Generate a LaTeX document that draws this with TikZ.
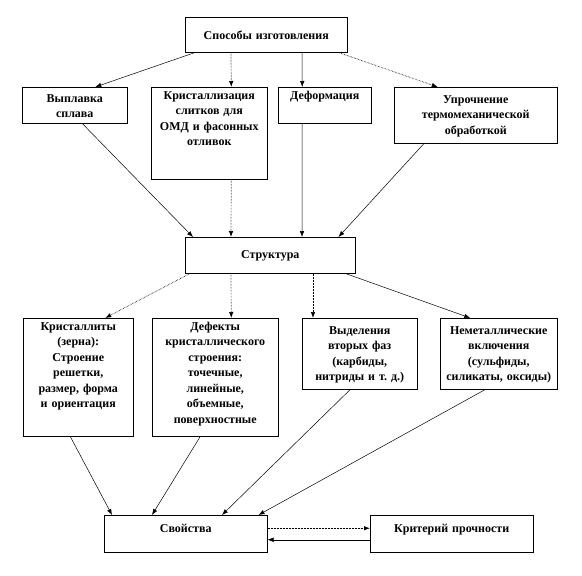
\documentclass[tikz,border=0pt]{standalone}
\usepackage{fontspec}
\setmainfont{Liberation Serif}
\frenchspacing
\usetikzlibrary{arrows.meta}

\begin{document}
\begin{tikzpicture}[
    x=1pt, y=-1pt,
    box/.style={draw, line width=0.5pt, inner sep=2pt, align=center, anchor=north west,
                text height=10pt, font=\bfseries\fontsize{12}{15.5}\selectfont},
    arrow/.style={-{Latex[length=6pt,width=4.5pt]}, line width=0.5pt},
    dotarrow/.style={arrow, densely dotted, line width=0.7pt}
  ]
  \useasboundingbox (0,0) rectangle (582,576);
  % Способы изготовления
  \node[box, text width=158pt, minimum height=35pt] (spos) at (185,17) {Способы изготовления};
  % Выплавка
  \node[box, text width=101pt, minimum height=36pt] (vypl) at (22,87) {Выплавка\\сплава};
  % Кристаллизация
  \node[box, text width=112pt, text depth=78pt] (krist) at (151,87)
    {Кристаллизация\\слитков для\\ОМД и фасонных\\отливок};
  % Деформация
  \node[box, text width=89pt, text depth=22pt] (deform) at (278,87) {Деформация};
  % Упрочнение
  \node[box, text width=159pt, minimum height=56pt] (upr) at (394,87)
    {Упрочнение\\термомеханической\\обработкой};
  % Структура
  \node[box, text width=166pt, minimum height=36pt] (strukt) at (185,237) {Структура};
  % Кристаллиты
  \node[box, text width=106pt, text depth=104pt] (kryst) at (23,318)
    {Кристаллиты\\(зерна):\\Строение\\решетки,\\размер, форма\\и ориентация};
  % Дефекты
  \node[box, text width=122pt, text depth=104pt] (defekt) at (152,318)
    {Дефекты\\кристаллического\\строения:\\точечные,\\линейные,\\объемные,\\поверхностные};
  % Выделения
  \node[box, text width=111pt, minimum height=71pt] (vydel) at (302,318)
    {Выделения\\вторых фаз\\(карбиды,\\нитриды и т. д.)};
  % Неметаллические включения
  \node[box, text width=113pt, minimum height=71pt] (nemet) at (440,318)
    {Неметаллические\\включения\\(сульфиды,\\силикаты, оксиды)};
  % Свойства
  \node[box, text width=159pt, text height=15pt, text depth=18pt] (svoj) at (104,515) {Свойства};
  % Критерий прочности
  \node[box, text width=159pt, text height=15pt, text depth=18pt] (krit) at (370,515) {Критерий прочности};
  % Стрелки
  \draw[arrow] ([xshift=10pt]spos.south west) -- ([xshift=20.5pt]vypl.north);
  \draw[dotarrow] ([xshift=46pt]spos.south west) -- ([xshift=22pt]krist.north);
  \draw[arrow] ([xshift=117pt]spos.south west) -- ([xshift=-22.5pt]deform.north);
  \draw[dotarrow] ([xshift=-9pt]spos.south east) -- ([xshift=-38pt]upr.north);
  \draw[arrow] ([xshift=7.5pt]vypl.south) -- ([xshift=8pt]strukt.north west);
  \draw[dotarrow] ([xshift=22pt]krist.south) -- ([xshift=46pt]strukt.north west);
  \draw[arrow] ([xshift=-22.5pt]deform.south) -- ([xshift=117pt]strukt.north west);
  \draw[arrow] ([xshift=30pt]upr.south west) -- ([xshift=-17pt]strukt.north east);
  \draw[dotarrow] ([xshift=5pt]strukt.south west) -- ([xshift=27pt]kryst.north);
  \draw[dotarrow] ([xshift=46pt]strukt.south west) -- ([xshift=16pt]defekt.north);
  \draw[dotarrow] ([xshift=128pt]strukt.south west) -- ([xshift=11pt]vydel.north west);
  \draw[arrow] ([xshift=-10pt]strukt.south east) -- ([xshift=-28.5pt]nemet.north);
  \draw[arrow] ([xshift=-8pt]kryst.south) -- ([xshift=8pt]svoj.north west);
  \draw[arrow] ([xshift=-15pt]defekt.south) -- ([xshift=48pt]svoj.north west);
  \draw[arrow] ([xshift=-9.5pt]vydel.south) -- ([xshift=118pt]svoj.north west);
  \draw[arrow] ([xshift=-13.5pt]nemet.south) -- ([xshift=-9pt]svoj.north east);
  \draw[dotarrow] ([yshift=5.5pt]svoj.east) -- ([yshift=5.5pt]krit.west);
  \draw[arrow] ([yshift=-6pt]krit.west) -- ([yshift=-6pt]svoj.east);
\end{tikzpicture}
\end{document}
